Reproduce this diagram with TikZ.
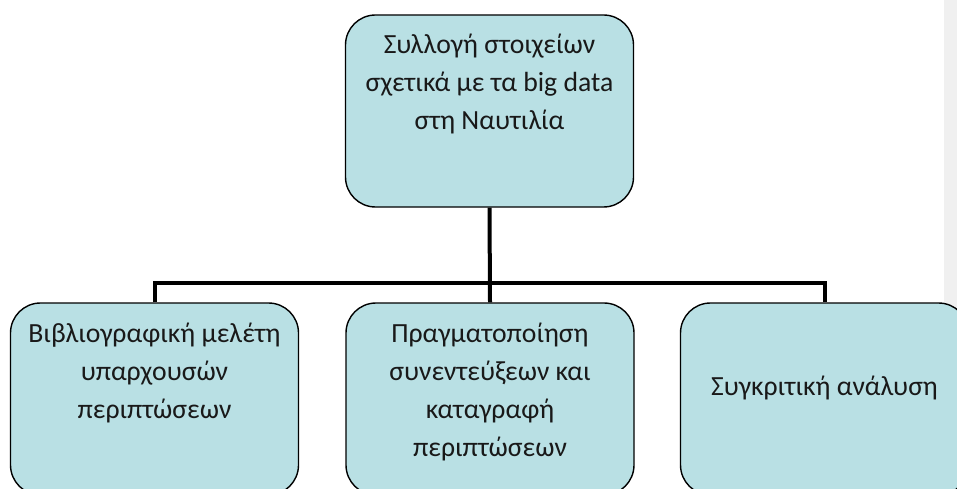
\documentclass[tikz,border=0pt]{standalone}
\usepackage{fontspec}
\setmainfont{Carlito}
\definecolor{boxfill}{RGB}{185,224,228}
\definecolor{strip}{RGB}{240,240,240}
\begin{document}
\begin{tikzpicture}[x=1pt,y=1pt,
  box/.style={draw=black,line width=1.4pt,fill=boxfill,rounded corners=30pt,
    minimum width=288pt,minimum height=192pt,inner sep=0pt},
  txt/.style={font=\fontsize{27.7pt}{38pt}\selectfont,align=center,inner sep=0pt,anchor=base,text=black!90},
  conn/.style={line width=4pt,draw=black}]
\useasboundingbox (0,0) rectangle (957,-489);
\clip (0,0) rectangle (957,-489);
\fill[strip] (944,0) rectangle (957,-489);
\node[box] (top) at (489.5,-111) {};
\node[box] (left) at (154.5,-399) {};
\node[box] (mid) at (490,-399) {};
\node[box] (right) at (824.5,-399) {};
\coordinate (bus) at (0,-283);
\draw[conn] (top.south) -- (mid.north);
\draw[conn] (left.north) -- (left.north |- bus) -- (right.north |- bus) -- (right.north);
\node[txt] (ttop) at (489.5,-130) {Συλλογή στοιχείων\\σχετικά με τα big data\\στη Ναυτιλία};
\node[txt] (tleft) at (154.5,-418) {Βιβλιογραφική μελέτη\\υπαρχουσών\\περιπτώσεων};
\node[txt] (tmid) at (490,-456) {Πραγματοποίηση\\συνεντεύξεων και\\καταγραφή\\περιπτώσεων};
\node[txt] (tright) at (824.5,-395) {Συγκριτική ανάλυση};
\end{tikzpicture}
\end{document}
